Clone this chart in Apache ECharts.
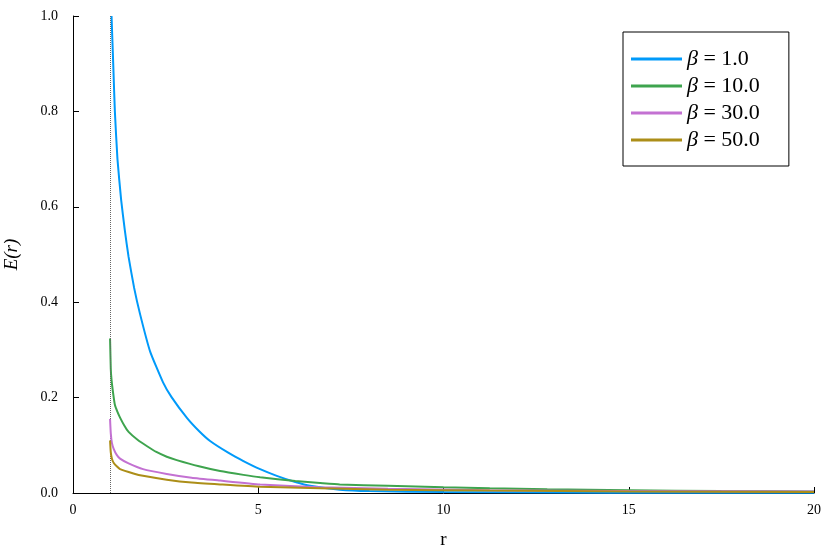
<!DOCTYPE html>
<html>
<head>
<meta charset="utf-8">
<script src="https://cdn.jsdelivr.net/npm/echarts@6/dist/echarts.min.js"></script>
<style>
  html, body { margin: 0; padding: 0; background: #fff; }
  #myChart { width: 830px; height: 554px; }
</style>
</head>
<body>
<div id="myChart"></div>
<script>
// values
var seriesNames = ["β = 1.0", "β = 10.0", "β = 30.0", "β = 50.0"];
var seriesColors = ["#009AFA", "#3EA44E", "#C371D2", "#AC8E18"];

var blueR = [1.04, 1.09, 1.13, 1.2, 1.3, 1.4, 1.5, 1.65, 1.81, 2.08, 2.43, 2.66, 3.08, 3.4, 3.7, 4.2, 4.6, 5.05, 5.5, 6.0, 6.4, 7.2, 8, 10, 13, 16, 20];
var blueE = [1.0, 0.89, 0.80, 0.70, 0.614, 0.55, 0.495, 0.43, 0.375, 0.297, 0.232, 0.201, 0.157, 0.130, 0.109, 0.084, 0.067, 0.050, 0.036, 0.023, 0.015, 0.007, 0.004, 0.002, 0.001, 0.0005, 0.0003];

var greenR = [1.0, 1.02, 1.04, 1.09, 1.13, 1.2, 1.27, 1.38, 1.5, 1.75, 2.0, 2.25, 2.53, 2.8, 3.4, 3.97, 4.6, 5.05, 6.0, 6.67, 7.2, 8.5, 10, 11.25, 12.8, 15, 17.5, 20];
var greenE = [0.324, 0.26, 0.237, 0.205, 0.185, 0.17, 0.158, 0.142, 0.128, 0.111, 0.098, 0.086, 0.076, 0.069, 0.056, 0.046, 0.038, 0.033, 0.025, 0.021, 0.018, 0.015, 0.012, 0.010, 0.008, 0.006, 0.004, 0.003];

var pinkR = [1.0, 1.02, 1.05, 1.1, 1.18, 1.27, 1.5, 1.89, 2.53, 3.2, 3.97, 5.05, 6.67, 8.5, 11.25, 15, 20];
var pinkE = [0.155, 0.125, 0.105, 0.092, 0.080, 0.072, 0.062, 0.050, 0.040, 0.032, 0.026, 0.018, 0.012, 0.009, 0.006, 0.004, 0.003];

var oliveR = [1.0, 1.02, 1.05, 1.1, 1.18, 1.27, 1.63, 1.89, 2.53, 3.2, 3.97, 5.05, 6.67, 8.5, 11.25, 15, 20];
var oliveE = [0.110, 0.085, 0.072, 0.063, 0.056, 0.050, 0.041, 0.036, 0.028, 0.022, 0.018, 0.013, 0.010, 0.007, 0.005, 0.003, 0.002];

var xTicks = [0, 5, 10, 15, 20];
var singularAt = 1.0; // dotted vertical line

function pairs(xs, ys) {
  var out = [];
  for (var i = 0; i < xs.length; i++) out.push([xs[i], ys[i]]);
  return out;
}

var serif = "'Liberation Serif', 'DejaVu Serif', serif";
var allData = [pairs(blueR, blueE), pairs(greenR, greenE), pairs(pinkR, pinkE), pairs(oliveR, oliveE)];

var series = allData.map(function (d, i) {
  var s = {
    name: seriesNames[i],
    type: "line",
    data: d,
    showSymbol: false,
    smooth: 0.15,
    lineStyle: { width: 2, color: seriesColors[i] },
    itemStyle: { color: seriesColors[i] },
    z: 3 + i
  };
  if (i === 0) {
    s.markLine = {
      silent: true,
      symbol: "none",
      label: { show: false },
      lineStyle: { type: "dotted", color: "#666", width: 1 },
      data: [{ xAxis: singularAt }]
    };
  }
  return s;
});

var myChart = echarts.init(document.getElementById("myChart"));
myChart.setOption({
  animation: false,
  backgroundColor: "#fff",
  grid: { left: 73, right: 16, top: 16, bottom: 61, containLabel: false, outerBoundsMode: "none" },
  legend: {
    orient: "vertical",
    left: 623,
    top: 32,
    padding: [16, 29, 15, 8],
    borderColor: "#000",
    borderWidth: 1,
    borderRadius: 0,
    itemWidth: 51,
    itemHeight: 3,
    itemGap: 5,
    icon: "rect",
    data: seriesNames,
    formatter: function (name) { return name.replace("β", "{i|β}"); },
    textStyle: {
      fontFamily: serif, fontSize: 22, color: "#000",
      rich: { i: { fontFamily: serif, fontSize: 22, fontStyle: "italic", color: "#000" } }
    }
  },
  xAxis: {
    type: "value",
    min: 0,
    max: 20,
    interval: 5,
    name: "r",
    nameLocation: "middle",
    nameGap: 38,
    nameTextStyle: { fontFamily: serif, fontSize: 19, color: "#000" },
    axisLine: { show: true, lineStyle: { color: "#000", width: 1 } },
    axisTick: { show: true, inside: true, length: 6, lineStyle: { color: "#000" } },
    splitLine: { show: false },
    axisLabel: {
      fontFamily: serif, fontSize: 14, color: "#000", margin: 10,
      formatter: function (v) { return xTicks.indexOf(v) >= 0 ? String(v) : ""; }
    }
  },
  yAxis: {
    type: "value",
    min: 0,
    max: 1,
    interval: 0.2,
    name: "E(r)",
    nameLocation: "middle",
    nameGap: 52,
    nameRotate: 90,
    nameTextStyle: { fontFamily: serif, fontSize: 19, fontStyle: "italic", color: "#000" },
    axisLine: { show: true, lineStyle: { color: "#000", width: 1 } },
    axisTick: { show: true, inside: true, length: 6, lineStyle: { color: "#000" } },
    splitLine: { show: false },
    axisLabel: {
      fontFamily: serif, fontSize: 14, color: "#000", margin: 15,
      formatter: function (v) { return v.toFixed(1); }
    }
  },
  series: series
});
</script>
</body>
</html>
